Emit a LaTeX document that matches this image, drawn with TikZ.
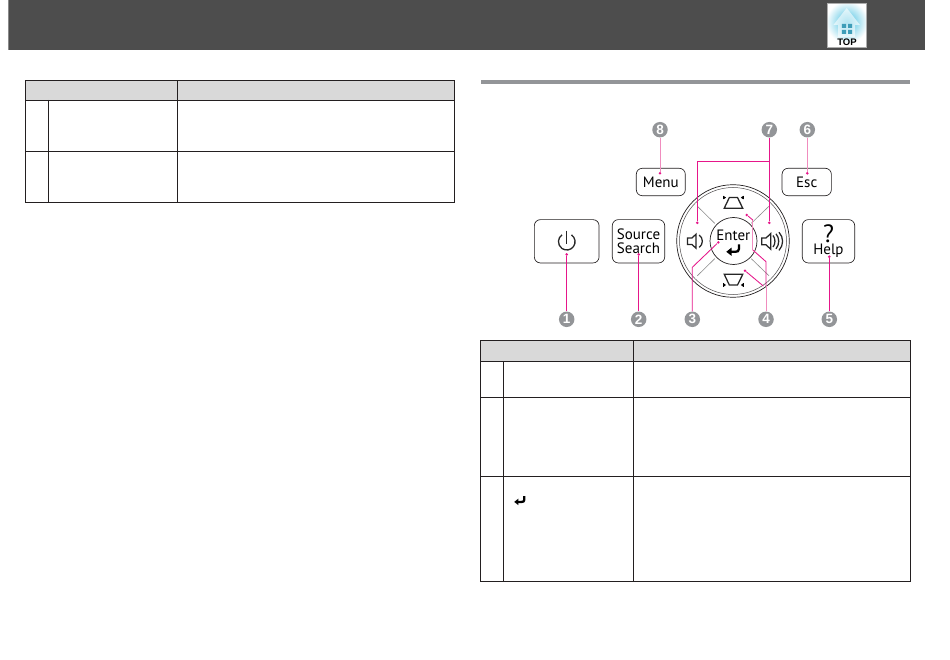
\documentclass[tikz,border=0pt]{standalone}
\usepackage{fontspec}
\setmainfont{PT Sans}
\newfontfamily\digitfont{Liberation Sans}
\definecolor{headgray}{HTML}{4D4D4D}
\definecolor{edgegray}{HTML}{8A8A8A}
\definecolor{tablehead}{HTML}{D9D9D9}
\definecolor{gridc}{HTML}{231F20}
\definecolor{callgray}{HTML}{939598}
\definecolor{pinkc}{HTML}{E6168A}
\definecolor{pinkl}{HTML}{F08CBE}
\definecolor{spokec}{HTML}{8C8C8C}
\definecolor{topblue}{HTML}{45BFE0}
\definecolor{topwin}{HTML}{3E9DB8}
\tikzset{
  gridline/.style={draw=gridc,line width=0.95pt},
  headcell/.style={fill=tablehead},
  btn/.style={draw=gridc,line width=0.65pt,rounded corners=6pt,fill=white,inner sep=0pt,align=center,font=\fontsize{15}{15.5}\selectfont},
  callout/.style={circle,fill=callgray,text=white,inner sep=0pt,minimum size=15.5pt,font=\digitfont\bfseries\fontsize{13.5}{14}\selectfont},
  tipdot/.style={circle,fill=pinkc,inner sep=0pt,minimum size=2.8pt},
  lead/.style={draw=pinkc,line width=0.85pt},
  leadl/.style={draw=pinkl,line width=1pt},
  icon/.style={draw=black!85,line width=1.25pt,line join=miter},
  pics/enterarrow/.style={code={
    \draw[black,line width=2.3pt] (5.4,-5.6) -- (5.4,-1) .. controls (5.4,1) and (4,1.8) .. (2,1.8) -- (-3,1.8);
    \fill[black] (-7.2,1.8) -- (-2,-2.4) -- (-2,5.8) -- cycle;
  }},
  pics/keyarrows/.style={code={
    \draw[black,line width=0.7pt] (-10.2,-1.6) -- (-10.2,1.6);
    \fill[black] (-7.4,0) -- (-9.9,-1.8) -- (-9.9,1.8) -- cycle;
    \draw[black,line width=0.7pt] (10.2,-1.6) -- (10.2,1.6);
    \fill[black] (7.4,0) -- (9.9,-1.8) -- (9.9,1.8) -- cycle;
  }}
}
\begin{document}
\begin{tikzpicture}[x=1pt,y=-1pt]
\useasboundingbox (0,0) rectangle (950,660);
\fill[white] (0,0) rectangle (950,660);
% header
\fill[headgray] (8,0) rectangle (925,50);
\fill[edgegray] (8,0) rectangle (9,50);
% TOP icon
\begin{scope}
  \clip (827.7,3.3) rectangle (866.8,47.4);
  \fill[white] (827.7,3.3) rectangle (866.8,47.4);
  \shade[inner color=topblue,outer color=white] (847,22) circle[radius=21pt];
\end{scope}
\draw[edgegray!70!white,line width=0.8pt] (827.7,3.3) rectangle (866.8,47.4);
\fill[white,opacity=0.6] (846.7,8) -- (860,25) -- (855.2,25) -- (855.2,37) -- (838.2,37) -- (838.2,25) -- (833.4,25) -- cycle;
\fill[topwin] (841.8,24) rectangle (846,28) (848,24) rectangle (852.2,28) (841.8,30) rectangle (846,34) (848,30) rectangle (852.2,34);
\node[inner sep=0pt,font=\digitfont\bfseries\fontsize{9.5}{10}\selectfont,text=black] (toplabel) at (847,42.6) {TOP};
% left table
\fill[headcell] (25.5,80.5) rectangle (454.5,100);
\draw[gridline] (25.5,80.5) rectangle (454.5,202);
\draw[gridline] (25.5,100) -- (454.5,100);
\draw[gridline] (25.5,151.3) -- (454.5,151.3);
\draw[gridline] (48.5,100) -- (48.5,202);
\draw[gridline] (177.5,80.5) -- (177.5,202);
% section rule
\fill[callgray] (481,80) rectangle (910,84);
% right table
\fill[headcell] (480.8,340.7) rectangle (910,361.3);
\draw[gridline] (480.8,340.7) rectangle (910,581);
\draw[gridline] (480.8,361.3) -- (910,361.3);
\draw[gridline] (480.8,397.3) -- (910,397.3);
\draw[gridline] (480.8,476.3) -- (910,476.3);
\draw[gridline] (503.3,361.3) -- (503.3,581);
\draw[gridline] (633.3,340.7) -- (633.3,581);
\pic[scale=0.8] at (520,500.5) {enterarrow};
% buttons
\node[btn,minimum width=64.7pt,minimum height=43.3pt] (power) at (566.7,241.3) {};
\node[btn,minimum width=52.4pt,minimum height=43.3pt] (source) at (638.5,241.3) {Source\\[-1.2pt]Search};
\node[btn,minimum width=49pt,minimum height=27.4pt] (menu) at (660.8,182) {Menu};
\node[btn,minimum width=49.3pt,minimum height=27.4pt] (esc) at (806.7,182) {Esc};
\node[btn,minimum width=52.4pt,minimum height=43.3pt] (help) at (828.5,241.3) {\fontsize{25}{25}\selectfont ?\\[-3pt]\fontsize{15}{15.5}\selectfont Help};
% power glyph
\draw[black!85,line width=1.3pt] (571.5,234.9) arc[start angle=-55,end angle=235,radius=8.3];
\draw[black!85,line width=1.3pt] (566.7,230.7) -- (566.7,244);
% dial
\node[circle,draw=gridc,line width=0.7pt,minimum size=112.6pt,inner sep=0pt,fill=white] (dial) at (733,241) {};
\node[circle,draw=gridc!80,line width=0.5pt,minimum size=107pt,inner sep=0pt] (dialin) at (733,241) {};
\draw[spokec,line width=0.6pt] (714.7,223.3) -- (697.3,206.2);
\draw[spokec,line width=0.6pt] (751.3,223.3) -- (769,206.2);
\draw[spokec,line width=0.6pt] (714.7,258.7) -- (697.3,275.8);
\draw[spokec,line width=0.6pt] (751.3,258.7) -- (769,275.8);
\node[circle,draw=gridc,line width=0.7pt,minimum size=47pt,inner sep=0pt,fill=white] (enter) at (733.5,241) {};
\node[inner sep=0pt,font=\fontsize{15}{16}\selectfont] (entert) at (733.3,235.5) {Enter};
\pic at (733.5,250) {enterarrow};
% speaker left
\draw[icon,fill=white] (687.5,238) -- (692,238) -- (696,234.2) -- (696,248.2) -- (692,244.6) -- (687.5,244.6) -- cycle;
\draw[icon] (699.2,235) .. controls (703.4,238) and (703.4,244.4) .. (699.2,247.4);
% speaker right
\draw[icon,fill=white] (761.7,238) -- (766,238) -- (770.7,233.6) -- (770.7,249.2) -- (766,244.8) -- (761.7,244.8) -- cycle;
\draw[icon] (773,235.5) .. controls (775.6,238.5) and (775.6,244) .. (773,247);
\draw[icon] (776,233.8) .. controls (779.6,238) and (779.6,244.5) .. (776,248.8);
\draw[icon] (779,232.2) .. controls (783.8,237.5) and (783.8,245) .. (779,250.4);
% keystone
\draw[icon] (729.3,197.6) -- (737.5,197.6) -- (742.8,208.3) -- (724.2,208.3) -- cycle;
\pic at (733.4,197.6) {keyarrows};
\draw[icon] (724.2,274.2) -- (742.8,274.2) -- (737.5,285) -- (729.3,285) -- cycle;
\pic at (733.4,285) {keyarrows};
% callouts
\node[callout] (c1) at (566.7,319.3) {1};
\node[callout] (c2) at (638.7,319.3) {2};
\node[callout] (c3) at (692.3,319.3) {3};
\node[callout] (c4) at (766,319.3) {4};
\node[callout] (c5) at (829.3,319.3) {5};
\node[callout] (c6) at (807.3,129.7) {6};
\node[callout] (c7) at (769.3,129.7) {7};
\node[callout] (c8) at (660,129.7) {8};
% tips
\node[tipdot] (d1) at (566.7,254.4) {};
\node[tipdot] (d2) at (638.7,254.4) {};
\node[tipdot] (d3) at (718.3,242.4) {};
\node[tipdot] (d4a) at (746.8,215) {};
\node[tipdot] (d4b) at (745,270.7) {};
\node[tipdot] (d5) at (829.3,256.7) {};
\node[tipdot] (d6) at (807.3,173.3) {};
\node[tipdot] (d7a) at (697.3,222.8) {};
\node[tipdot] (d7b) at (769.3,222.8) {};
\node[tipdot] (d8) at (660,173.3) {};
\coordinate (k3) at (692.3,267.3);
\coordinate (k4a) at (752.8,220);
\coordinate (k4b) at (752.8,250);
\coordinate (k4c) at (766,261.7);
\coordinate (k4d) at (763.3,286);
\coordinate (k4e) at (766,286);
\coordinate (k7) at (769.3,161.7);
\coordinate (k7l) at (697.3,161.7);
% leaders
\draw[lead] (c1) -- (d1);
\draw[lead] (c2) -- (d2);
\draw[lead] (c5) -- (d5);
\draw[lead] (c3) -- (k3) -- (d3);
\draw[leadl] (c6) -- (d6);
\draw[leadl] (c8) -- (d8);
\draw[lead] (c7) -- (d7b);
\draw[lead] (k7) -- (k7l) -- (d7a);
\draw[leadl] (c4) -- (k4e);
\draw[lead] (k4e) -- (k4c) -- (k4b);
\draw[leadl] (k4b) -- (k4a);
\draw[lead] (k4a) -- (d4a);
\draw[lead] (k4d) -- (d4b);
\end{tikzpicture}
\end{document}
